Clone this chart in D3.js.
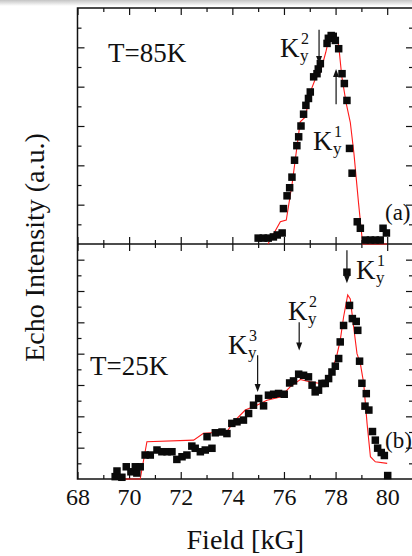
<!DOCTYPE html>
<html>
<head>
<meta charset="utf-8">
<script src="https://cdn.jsdelivr.net/npm/d3@7"></script>
<style>
  html, body { margin: 0; padding: 0; background: #fff; }
  svg { display: block; }
  text { font-family: "Liberation Serif", "DejaVu Serif", serif; fill: #111; }
</style>
</head>
<body>
<svg id="chart" width="412" height="556"></svg>
<script>
// Field axis ticks (kG)
const xMajorTicks = [68, 70, 72, 74, 76, 78, 80];
const xMinorTicks = [69, 71, 73, 75, 77, 79, 81];

// Panel (a): T = 85 K echo intensity
const fieldA = [75.00, 75.20, 75.39, 75.59, 75.74, 75.93, 75.98, 76.12, 76.22, 76.31, 76.41, 76.50,
  76.57, 76.66, 76.76, 76.85, 76.95, 77.02, 77.15, 77.28, 77.33, 77.41, 77.67, 77.72, 77.83, 77.91,
  77.99, 78.12, 78.25, 78.34, 78.44, 78.54, 78.64, 78.84, 78.96, 79.15, 79.35, 79.54, 79.73, 79.84, 79.97];
const echoA = [0.03, 0.03, 0.03, 0.036, 0.046, 0.056, 0.18, 0.245, 0.286, 0.34, 0.426, 0.50,
  0.545, 0.60, 0.66, 0.705, 0.74, 0.773, 0.85, 0.866, 0.89, 0.917, 1.02, 1.046, 1.06, 1.056,
  1.035, 0.993, 0.866, 0.816, 0.73, 0.486, 0.36, 0.113, 0.08, 0.02, 0.02, 0.02, 0.02, 0.08, 0.056];

// Panel (a): simulated spectrum
const fitFieldA = [75.38, 75.86, 76.09, 76.32, 76.63, 76.83, 77.02, 77.21, 77.41, 77.62, 77.76, 77.87,
  78.01, 78.12, 78.24, 78.41, 78.57, 78.71, 78.89, 79.05, 79.99];
const fitA = [0.0, 0.113, 0.122, 0.31, 0.621, 0.646, 0.772, 0.838, 0.873, 0.975, 1.056, 1.071,
  1.061, 1.01, 0.853, 0.716, 0.619, 0.462, 0.208, 0.0, 0.0];

// Panel (b): T = 25 K echo intensity
const fieldB = [69.46, 69.53, 69.72, 69.89, 70.07, 70.24, 70.30, 70.43, 70.62, 70.82, 71.08, 71.27,
  71.47, 71.66, 71.85, 72.05, 72.24, 72.43, 72.56, 72.76, 72.95, 73.02, 73.21, 73.34, 73.60, 73.79,
  73.98, 74.18, 74.43, 74.63, 74.82, 75.02, 75.21, 75.40, 75.60, 75.79, 76.01, 76.22, 76.37, 76.57,
  76.76, 76.95, 77.09, 77.21, 77.34, 77.47, 77.60, 77.73, 77.86, 77.99, 78.12, 78.18, 78.31, 78.44,
  78.54, 78.65, 78.80, 78.86, 78.93, 79.02, 79.14, 79.19, 79.29, 79.43, 79.54, 79.63, 79.77, 79.89, 80.02];
const echoB = [0.015, 0.051, 0.011, 0.078, 0.046, 0.078, 0.038, 0.078, 0.153, 0.153, 0.185, 0.174,
  0.174, 0.174, 0.125, 0.142, 0.153, 0.21, 0.196, 0.174, 0.185, 0.27, 0.196, 0.295, 0.30, 0.29,
  0.355, 0.365, 0.376, 0.418, 0.471, 0.514, 0.467, 0.535, 0.541, 0.546, 0.541, 0.613, 0.626, 0.669,
  0.662, 0.652, 0.599, 0.556, 0.567, 0.61, 0.61, 0.641, 0.683, 0.72, 0.769, 0.875, 0.98, 1.32,
  1.108, 1.024, 1.006, 0.949, 0.752, 0.611, 0.465, 0.545, 0.44, 0.303, 0.248, 0.197, 0.169, 0.15, 0.022];

// Panel (b): simulated spectrum
const fitFieldB = [69.40, 70.43, 70.69, 72.50, 72.88, 73.79, 74.05, 74.50, 74.95, 75.34, 75.86, 76.24,
  76.63, 77.02, 77.41, 77.79, 78.05, 78.18, 78.31, 78.47, 78.57, 78.70, 78.83, 78.96, 79.09, 79.22,
  79.35, 79.54, 80.00];
const fitB = [0.0, 0.0, 0.238, 0.248, 0.291, 0.301, 0.365, 0.44, 0.471, 0.503, 0.524, 0.588,
  0.635, 0.62, 0.61, 0.652, 0.79, 0.885, 1.034, 1.175, 1.15, 0.97, 0.80, 0.737, 0.61, 0.355,
  0.142, 0.11, 0.10];

// Peak markers: label index, field position, arrow start/end intensity
const peaksA = [
  { n: "2", field: 77.36, from: 1.09, to: 0.915 },
  { n: "1", field: 78.02, from: 0.71, to: 0.89 }
];
const peaksB = [
  { n: "1", field: 78.44, from: 1.46, to: 1.25 },
  { n: "2", field: 76.59, from: 1.00, to: 0.82 },
  { n: "3", field: 74.98, from: 0.79, to: 0.555 }
];

const svg = d3.select("#chart");
const W = 412, H = 556;
const plotLeft = 77.5, plotRight = 413, plotTop = 8, plotMid = 244, plotBottom = 479;

// faint shade along the top edge
const defs = svg.append("defs");
const grad = defs.append("linearGradient").attr("id", "topShade").attr("x1", 0).attr("y1", 0).attr("x2", 0).attr("y2", 1);
grad.append("stop").attr("offset", "0%").attr("stop-color", "#c4c4c4");
grad.append("stop").attr("offset", "100%").attr("stop-color", "#ffffff");
svg.append("rect").attr("x", 0).attr("y", 0).attr("width", W).attr("height", 6).attr("fill", "url(#topShade)");

const x = d3.scaleLinear().domain([68, 81]).range([plotLeft, plotRight]);
const yA = d3.scaleLinear().domain([0, 1.2]).range([plotMid, plotTop]);
const yB = d3.scaleLinear().domain([0, 1.5]).range([plotBottom, plotMid]);

const yMajA = d3.range(0.2, 1.19, 0.2), yMinA = d3.range(0.1, 1.19, 0.2);
const yMajB = d3.range(0.2, 1.49, 0.2), yMinB = d3.range(0.1, 1.49, 0.2);

function styleAxis(g) {
  g.select(".domain").remove();
  g.selectAll(".tick line").attr("stroke", "#111").attr("stroke-width", 1.2);
}

function addTicks(axisFn, scale, values, size, transform) {
  svg.append("g").attr("transform", transform)
    .call(axisFn(scale).tickValues(values).tickSize(size).tickFormat(""))
    .call(styleAxis);
}

// x ticks: top of (a), both sides of the divider, bottom of (b)
addTicks(d3.axisTop, x, xMajorTicks, -7, `translate(0,${plotTop})`);
addTicks(d3.axisTop, x, xMinorTicks, -4, `translate(0,${plotTop})`);
addTicks(d3.axisBottom, x, xMajorTicks, -7, `translate(0,${plotMid})`);
addTicks(d3.axisBottom, x, xMinorTicks, -4, `translate(0,${plotMid})`);
addTicks(d3.axisTop, x, xMajorTicks, -7, `translate(0,${plotMid})`);
addTicks(d3.axisTop, x, xMinorTicks, -4, `translate(0,${plotMid})`);
addTicks(d3.axisBottom, x, xMinorTicks, -4, `translate(0,${plotBottom})`);

// bottom axis with labels
svg.append("g").attr("transform", `translate(0,${plotBottom})`)
  .call(d3.axisBottom(x).tickValues(xMajorTicks).tickSizeInner(-7).tickSizeOuter(0).tickPadding(9).tickFormat(d3.format("d")))
  .call(styleAxis)
  .call(g => g.selectAll("text").attr("font-size", 24).attr("font-family", "Liberation Serif").attr("fill", "#111"));

// y ticks on both sides of each panel
[[yA, yMajA, yMinA], [yB, yMajB, yMinB]].forEach(([ys, maj, min]) => {
  addTicks(d3.axisLeft, ys, maj, -7, `translate(${plotLeft},0)`);
  addTicks(d3.axisLeft, ys, min, -4, `translate(${plotLeft},0)`);
  addTicks(d3.axisRight, ys, maj, -7, `translate(${plotRight},0)`);
  addTicks(d3.axisRight, ys, min, -4, `translate(${plotRight},0)`);
});

// frames
svg.append("rect").attr("x", plotLeft).attr("y", plotTop).attr("width", plotRight - plotLeft).attr("height", plotBottom - plotTop)
  .attr("fill", "none").attr("stroke", "#111").attr("stroke-width", 1.5);
svg.append("line").attr("x1", plotLeft).attr("x2", plotRight).attr("y1", plotMid).attr("y2", plotMid)
  .attr("stroke", "#111").attr("stroke-width", 1.5);

// panels
function drawPanel(fields, echo, fitFields, fit, ys) {
  const line = d3.line().x(d => x(d[0])).y(d => ys(d[1]));
  svg.append("path").datum(d3.zip(fitFields, fit)).attr("d", line)
    .attr("fill", "none").attr("stroke", "#ff1a1a").attr("stroke-width", 1.1);
  const s = 7.5;
  svg.append("g").selectAll("rect").data(d3.zip(fields, echo)).join("rect")
    .attr("x", d => x(d[0]) - s / 2).attr("y", d => ys(d[1]) - s / 2)
    .attr("width", s).attr("height", s).attr("fill", "#0a0a0a");
}
drawPanel(fieldA, echoA, fitFieldA, fitA, yA);
drawPanel(fieldB, echoB, fitFieldB, fitB, yB);

// arrows
function arrow(px, y0, y1) {
  const dir = y1 > y0 ? 1 : -1;
  svg.append("line").attr("x1", px).attr("x2", px).attr("y1", y0).attr("y2", y1 - dir * 6)
    .attr("stroke", "#111").attr("stroke-width", 1.2);
  svg.append("path")
    .attr("d", `M${px - 3},${y1 - dir * 8} L${px + 3},${y1 - dir * 8} L${px},${y1} Z`)
    .attr("fill", "#111");
}

// K_y^n label: K base at (kx, ky)
function kLabel(kx, ky, n) {
  svg.append("text").attr("x", kx).attr("y", ky).attr("font-size", 27).text("K");
  svg.append("text").attr("x", kx + 20).attr("y", ky + 4).attr("font-size", 17).text("y");
  svg.append("text").attr("x", kx + 21).attr("y", ky - 13).attr("font-size", 16).text(n);
}

peaksA.forEach(p => arrow(x(p.field), yA(p.from), yA(p.to)));
peaksB.forEach(p => arrow(x(p.field), yB(p.from), yB(p.to)));

kLabel(280, 57, peaksA[0].n);
kLabel(313, 150, peaksA[1].n);
kLabel(356, 279, peaksB[0].n);
kLabel(288, 320, peaksB[1].n);
kLabel(228, 354, peaksB[2].n);

// panel captions
svg.append("text").attr("x", 108).attr("y", 62).attr("font-size", 27).text("T=85K");
svg.append("text").attr("x", 90).attr("y", 375).attr("font-size", 27).text("T=25K");
svg.append("text").attr("x", 385).attr("y", 220).attr("font-size", 23).text("(a)");
svg.append("text").attr("x", 385).attr("y", 448).attr("font-size", 23).text("(b)");

// axis titles
svg.append("text").attr("x", (plotLeft + plotRight) / 2).attr("y", 549).attr("text-anchor", "middle")
  .attr("font-size", 28).text("Field [kG]");
svg.append("text").attr("transform", `translate(44,${(128 + 367) / 2}) rotate(-90)`)
  .attr("text-anchor", "middle").attr("font-size", 28).text("Echo Intensity (a.u.)");
</script>
</body>
</html>
